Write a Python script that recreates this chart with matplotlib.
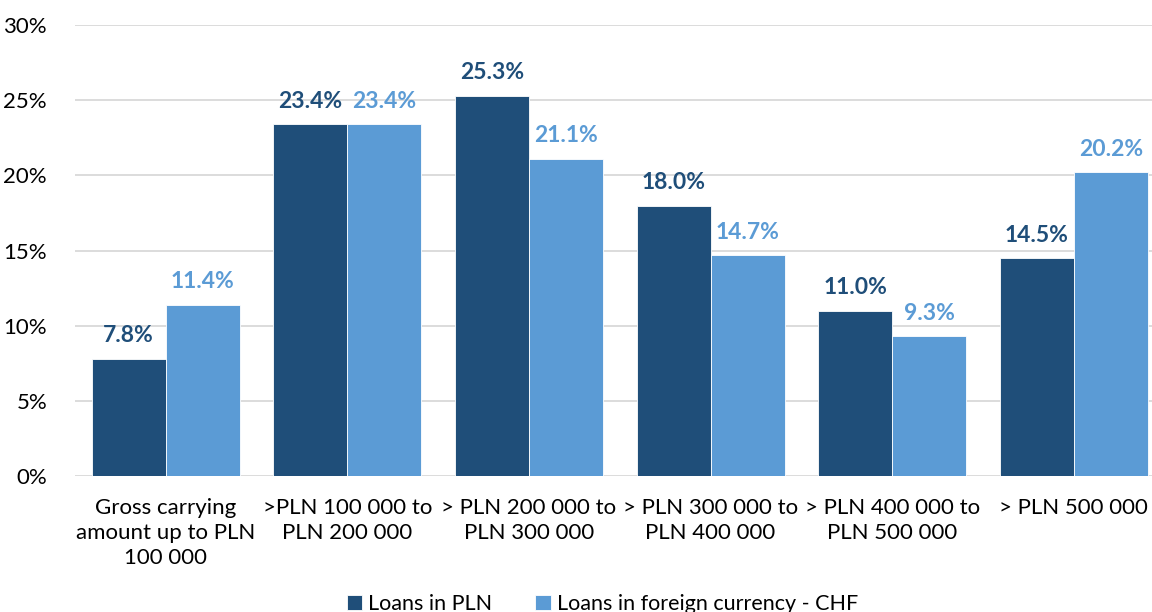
import numpy as np
import matplotlib
matplotlib.use('Agg')
import matplotlib.pyplot as plt
from matplotlib.ticker import PercentFormatter

plt.rcParams['font.family'] = ['Lato', 'DejaVu Sans']

# ─── Data ───
categories = [
    'Gross carrying\namount up to PLN\n100 000',
    '>PLN 100 000 to\nPLN 200 000',
    '> PLN 200 000 to\nPLN 300 000',
    '> PLN 300 000 to\nPLN 400 000',
    '> PLN 400 000 to\nPLN 500 000',
    '> PLN 500 000',
]
loans_pln = [7.8, 23.4, 25.3, 18.0, 11.0, 14.5]
loans_chf = [11.4, 23.4, 21.1, 14.7, 9.3, 20.2]
series_labels = ['Loans in PLN', 'Loans in foreign currency - CHF']

DARK = '#1F4E79'
LIGHT = '#5B9BD5'

fig = plt.figure(figsize=(11.52, 6.12), dpi=100)
ax = fig.add_axes([0.065, 0.222, 0.946, 0.737])

x = np.arange(len(categories))
w = 0.407
b1 = ax.bar(x - w / 2, loans_pln, w, color=DARK, edgecolor='white', linewidth=0.6,
            label=series_labels[0], zorder=3)
b2 = ax.bar(x + w / 2, loans_chf, w, color=LIGHT, edgecolor='white', linewidth=0.6,
            label=series_labels[1], zorder=3)

for bars, color in ((b1, DARK), (b2, LIGHT)):
    ax.bar_label(bars, labels=[f'{v:.1f}%' for v in bars.datavalues], padding=9,
                 color=color, fontsize=16.5, fontweight='bold')

ax.set_xlim(-0.5, len(categories) - 0.5)
ax.set_ylim(0, 30)
ax.set_yticks(np.arange(0, 31, 5))
ax.yaxis.set_major_formatter(PercentFormatter(decimals=0))
ax.grid(axis='y', color='#D9D9D9', linewidth=1.3, zorder=0)
ax.set_axisbelow(True)
for s in ax.spines.values():
    s.set_visible(False)
ax.tick_params(axis='both', length=0, labelsize=16, colors='black')
ax.tick_params(axis='y', pad=20)
ax.tick_params(axis='x', pad=16)
ax.set_xticks(x)
ax.set_xticklabels(categories, linespacing=1.3)

fig.legend(handles=[b1, b2], loc='lower center', bbox_to_anchor=(0.523, -0.035),
           ncol=2, frameon=False, fontsize=15.5, handlelength=0.7, handleheight=0.7,
           handletextpad=0.3, columnspacing=2.0)

fig.savefig('out.png', dpi=100)
